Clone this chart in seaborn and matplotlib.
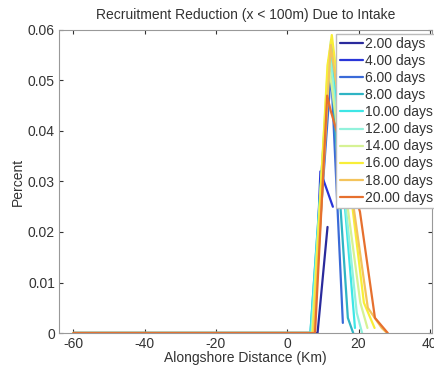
import numpy as np
import pandas as pd
import matplotlib
matplotlib.use("Agg")
import matplotlib.pyplot as plt
import seaborn as sns

labels = ["2.00 days", "4.00 days", "6.00 days", "8.00 days", "10.00 days",
          "12.00 days", "14.00 days", "16.00 days", "18.00 days", "20.00 days"]
colors = ["#2a2a9c", "#2a36d8", "#3a6ad8", "#2fb4c4", "#3ee6e6",
          "#92f2dc", "#d6f294", "#f8ee38", "#f4c45c", "#e6702e"]

x_2d = [-60, 8.5, 11.3]
y_2d = [0, 0, 0.021]
x_4d = [-60, 7.5, 9.3, 12.8]
y_4d = [0, 0, 0.032, 0.025]
x_6d = [-60, 7.0, 12.3, 15.6]
y_6d = [0, 0, 0.052, 0.002]
x_8d = [-60, 6.5, 12.0, 17.0, 18.5]
y_8d = [0, 0, 0.056, 0.003, 0.0]
x_10d = [-60, 6.5, 12.3, 19.0]
y_10d = [0, 0, 0.058, 0.001]
x_12d = [-60, 6.8, 12.0, 19.5, 21.0]
y_12d = [0, 0, 0.055, 0.004, 0.0]
x_14d = [-60, 7.0, 11.5, 20.5, 22.5]
y_14d = [0, 0, 0.054, 0.006, 0.001]
x_16d = [-60, 7.2, 11.3, 12.5, 21.5, 24.5]
y_16d = [0, 0, 0.053, 0.059, 0.006, 0.001]
x_18d = [-60, 7.5, 12.2, 22.6, 26.5, 28.0]
y_18d = [0, 0, 0.057, 0.005, 0.001, 0.0]
x_20d = [-60, 7.8, 11.2, 12.2, 20.4, 24.6, 28.2]
y_20d = [0, 0, 0.047, 0.044, 0.024, 0.003, 0.0]

xs = [x_2d, x_4d, x_6d, x_8d, x_10d, x_12d, x_14d, x_16d, x_18d, x_20d]
ys = [y_2d, y_4d, y_6d, y_8d, y_10d, y_12d, y_14d, y_16d, y_18d, y_20d]

rows = []
for lab, xx, yy in zip(labels, xs, ys):
    for i, (a, b) in enumerate(zip(xx, yy)):
        rows.append({"series": lab, "x": a, "y": b, "order": i})
df = pd.DataFrame(rows)

sns.set_style("white")
plt.rcParams["font.family"] = ["Liberation Sans", "DejaVu Sans"]
plt.rcParams["axes.unicode_minus"] = False

fig = plt.figure(figsize=(4.35, 3.71), dpi=100)
ax = fig.add_axes([0.136, 0.1024, 0.857, 0.8168])

sns.lineplot(data=df, x="x", y="y", hue="series", hue_order=labels,
             palette=colors, sort=False, estimator=None, units="series",
             linewidth=1.6, ax=ax)

ax.set_xlim(-64, 40.6)
ax.set_ylim(0, 0.06)
ax.set_xticks([-60, -40, -20, 0, 20, 40])
ax.set_yticks([0, 0.01, 0.02, 0.03, 0.04, 0.05, 0.06])
ax.set_yticklabels(["0", "0.01", "0.02", "0.03", "0.04", "0.05", "0.06"])
ax.tick_params(direction="in", length=3, labelsize=10, colors="#333333",
               top=True, right=True, bottom=True, left=True, pad=3)
for s in ax.spines.values():
    s.set_color("#999999")
    s.set_linewidth(0.8)

ax.set_xlabel("Alongshore Distance (Km)", fontsize=10, color="#333333", labelpad=0)
ax.set_ylabel("Percent", fontsize=10, color="#333333", labelpad=2)
ax.set_title("Recruitment Reduction (x < 100m) Due to Intake", fontsize=10,
             color="#333333", pad=8)

leg = ax.legend(loc="upper left", bbox_to_anchor=(0.743, 0.988), fontsize=10,
                frameon=True, handlelength=1.65, handletextpad=0.15,
                labelspacing=0.22, borderpad=0.25, borderaxespad=0.0,
                fancybox=False)
leg.get_frame().set_edgecolor("#bbbbbb")
leg.get_frame().set_alpha(1.0)
leg.set_clip_on(False)
for t in leg.get_texts():
    t.set_color("#333333")

fig.savefig("out.png", dpi=100)
